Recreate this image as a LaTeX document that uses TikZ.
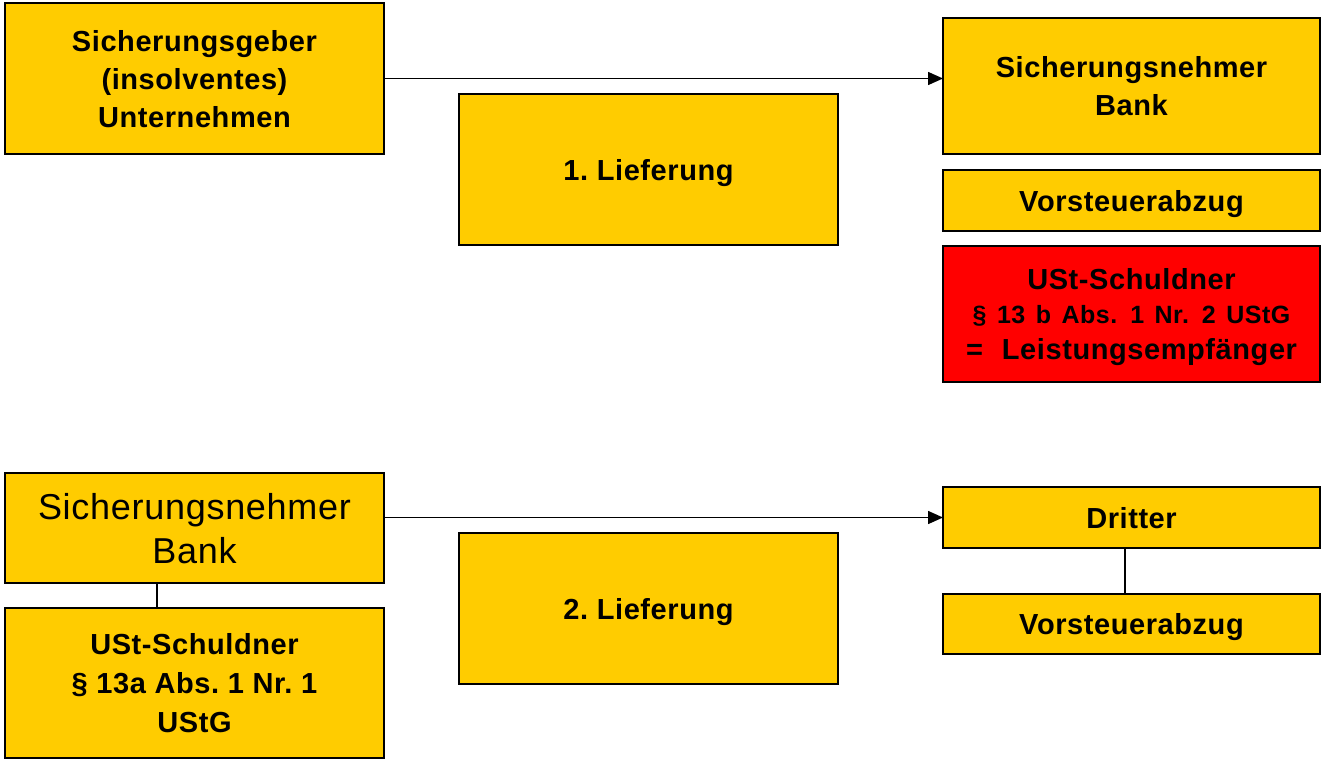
\documentclass[tikz,border=0pt]{standalone}
\usepackage{fontspec}
\setmainfont{Liberation Sans}[LetterSpace=2]
\usetikzlibrary{arrows.meta}

\definecolor{gold}{HTML}{FFCC00}
\definecolor{alarm}{HTML}{FF0000}

\tikzset{
  box/.style={draw=black, fill=gold, line width=1.8pt, inner sep=0pt, outer sep=0pt,
              anchor=north west, align=center, text depth=0pt},
  redbox/.style={box, fill=alarm},
  bigbold/.style={font=\fontsize{29}{38}\selectfont\bfseries},
  flow/.style={line width=1.5pt, -{Triangle[length=15pt,width=13pt]}},
  link/.style={line width=1.5pt}
}

\begin{document}
\begin{tikzpicture}[x=1pt,y=-1pt]
  \useasboundingbox (0,0) rectangle (1321,760);

  % first delivery
  \node[box, bigbold, minimum width=379pt, minimum height=151pt] (geber) at (5,3)
    {Sicherungsgeber\\(insolventes)\\Unternehmen};
  \node[box, bigbold, minimum width=377pt, minimum height=136pt] (nehmer) at (943,18)
    {Sicherungsnehmer\\Bank};
  \node[box, bigbold, minimum width=379pt, minimum height=151pt] (lief1) at (459,94)
    {1.\ Lieferung};
  \node[box, bigbold, minimum width=377pt, minimum height=61pt] (vst1) at (943,170)
    {Vorsteuerabzug};
  \node[redbox, font=\fontsize{29}{34}\selectfont\bfseries,
        minimum width=377pt, minimum height=136pt] (schuld1) at (943,246)
    {USt-Schuldner\\
     {\fontsize{25}{34}\selectfont\spaceskip=10.5pt \S\ 13 b Abs. 1 Nr. 2 UStG}\\[2pt]
     =\hspace{19pt}Leistungsempfänger};

  \draw[flow] (geber.east) -- (geber.east -| nehmer.west);

  % second delivery
  \node[box, font=\fontsize{36}{44}\selectfont, minimum width=379pt, minimum height=110pt] (bank) at (5,473)
    {Sicherungsnehmer\\Bank};
  \node[box, font=\fontsize{29}{39}\selectfont\bfseries, minimum width=379pt, minimum height=150pt] (schuld2) at (5,608)
    {USt-Schuldner\\\S\ 13a Abs.\ 1 Nr.\ 1\\UStG};
  \node[box, bigbold, minimum width=379pt, minimum height=151pt] (lief2) at (459,533)
    {2.\ Lieferung};
  \node[box, bigbold, minimum width=377pt, minimum height=61pt] (dritter) at (943,487)
    {Dritter};
  \node[box, bigbold, minimum width=377pt, minimum height=60pt] (vst2) at (943,594)
    {Vorsteuerabzug};

  \draw[flow] (dritter.west -| bank.east) -- (dritter.west);
  \draw[link] ([xshift=-37.5pt]bank.south) -- ([xshift=-37.5pt]bank.south |- schuld2.north);
  \draw[link] ([xshift=-6.5pt]dritter.south) -- ([xshift=-6.5pt]dritter.south |- vst2.north);
\end{tikzpicture}
\end{document}
